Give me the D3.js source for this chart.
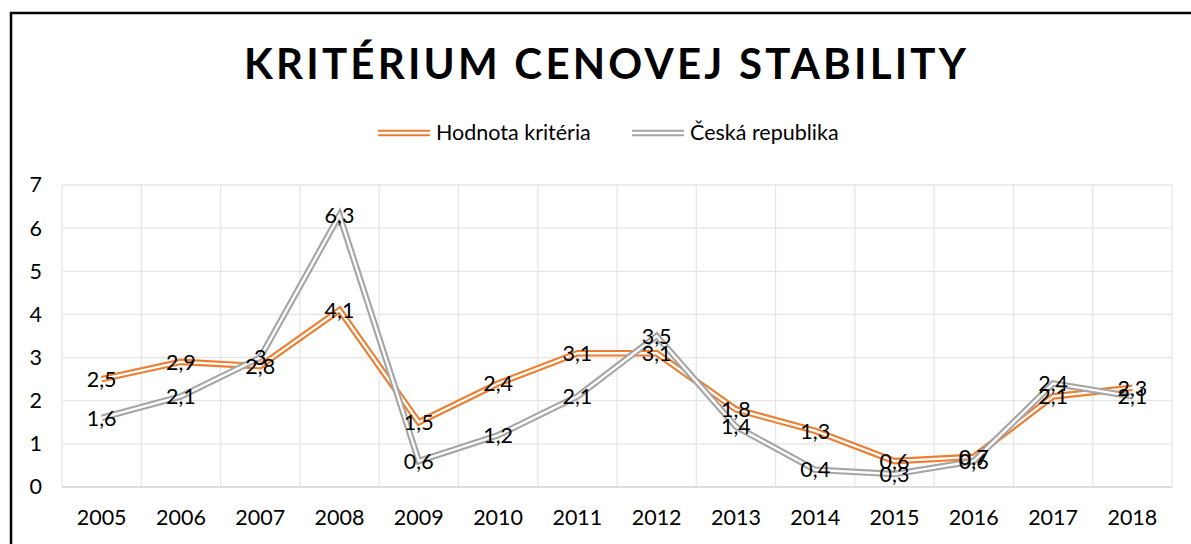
<!DOCTYPE html>
<html>
  <head>
    <meta charset="utf-8">
    <title>Kritérium cenovej stability</title>
    <script src="https://d3js.org/d3.v7.min.js"></script>
    <style>
      body { margin: 0; background: #fff; }
      svg { display: block; font-family: Lato, "Open Sans", sans-serif; }
      .grid line { stroke: #e6e6e6; stroke-width: 1.3; }
      .tick text, .label, .legendText { fill: #000; font-size: 21.5px; }
    </style>
  </head>
  <body>
    <svg id="chart" width="1191" height="544"></svg>
    <script>
      // data
      const years = ["2005", "2006", "2007", "2008", "2009", "2010", "2011", "2012", "2013", "2014", "2015", "2016", "2017", "2018"];
      const hodnota = [2.5, 2.9, 2.8, 4.1, 1.5, 2.4, 3.1, 3.1, 1.8, 1.3, 0.6, 0.7, 2.1, 2.3];
      const cesko = [1.6, 2.1, 3, 6.3, 0.6, 1.2, 2.1, 3.5, 1.4, 0.4, 0.3, 0.6, 2.4, 2.1];
      const yTicks = [0, 1, 2, 3, 4, 5, 6, 7];
      const seriesNames = ["Hodnota kritéria", "Česká republika"];
      const colors = ["#ed7d31", "#a5a5a5"];

      const chart = d3.select("#chart");
      const margin = { top: 185, right: 19, bottom: 57, left: 62 };
      const width = 1191, height = 544;

      // outer frame (left and top edges visible)
      chart.append("path")
        .attr("d", "M11,544 V13 H1191")
        .attr("fill", "none")
        .attr("stroke", "#000")
        .attr("stroke-width", 2.5);

      // title
      chart.append("text")
        .attr("x", 605).attr("y", 79)
        .attr("text-anchor", "middle")
        .attr("font-size", 42)
        .attr("font-weight", 700)
        .attr("textLength", 722)
        .attr("lengthAdjust", "spacing")
        .text("KRITÉRIUM CENOVEJ STABILITY");

      const x = d3.scaleBand().domain(years).range([margin.left, width - margin.right]);
      const y = d3.scaleLinear().domain([0, 7]).range([height - margin.bottom, margin.top]);
      const cx = d => x(d) + x.bandwidth() / 2;

      // gridlines
      const grid = chart.append("g").attr("class", "grid");
      grid.selectAll(".h").data(yTicks).join("line")
        .attr("x1", margin.left).attr("x2", width - margin.right)
        .attr("y1", d => y(d)).attr("y2", d => y(d));
      grid.selectAll(".v").data(years.concat(["end"])).join("line")
        .attr("x1", (d, i) => margin.left + i * x.bandwidth())
        .attr("x2", (d, i) => margin.left + i * x.bandwidth())
        .attr("y1", y(0)).attr("y2", y(7));
      chart.append("line")
        .attr("x1", margin.left).attr("x2", width - margin.right)
        .attr("y1", y(0)).attr("y2", y(0))
        .attr("stroke", "#d9d9d9").attr("stroke-width", 1.3);

      // axes
      const yAxis = d3.axisLeft(y).tickValues(yTicks).tickSize(0).tickPadding(20)
        .tickFormat(d3.format("d"));
      chart.append("g").attr("transform", "translate(" + margin.left + ",0)")
        .call(yAxis)
        .call(g => g.select(".domain").remove())
        .selectAll("text").attr("font-family", "Lato, sans-serif");
      const xAxis = d3.axisBottom(x).tickSize(0).tickPadding(23);
      chart.append("g").attr("transform", "translate(0," + y(0) + ")")
        .call(xAxis)
        .call(g => g.select(".domain").remove())
        .selectAll("text").attr("font-family", "Lato, sans-serif");

      // double lines
      const line = d3.line()
        .x((d, i) => cx(years[i]))
        .y(d => y(d));
      [hodnota, cesko].forEach(function(values, s) {
        chart.append("path")
          .attr("d", line(values))
          .attr("fill", "none")
          .attr("stroke", colors[s])
          .attr("stroke-width", 6.5);
        chart.append("path")
          .attr("d", line(values))
          .attr("fill", "none")
          .attr("stroke", "#fff")
          .attr("stroke-width", 2.3);
      });

      // data labels
      const fmt = d => String(d).replace(".", ",");
      [hodnota, cesko].forEach(function(values) {
        chart.append("g").selectAll("text").data(values).join("text")
          .attr("class", "label")
          .attr("x", (d, i) => cx(years[i]))
          .attr("y", d => y(d))
          .attr("dy", "0.36em")
          .attr("text-anchor", "middle")
          .text(fmt);
      });

      // legend
      const legendX = [378, 632];
      seriesNames.forEach(function(name, s) {
        const g = chart.append("g").attr("transform", "translate(" + legendX[s] + ",133)");
        g.append("line").attr("x1", 0).attr("x2", 52)
          .attr("stroke", colors[s]).attr("stroke-width", 6.5);
        g.append("line").attr("x1", 0).attr("x2", 52)
          .attr("stroke", "#fff").attr("stroke-width", 2.3);
        g.append("text").attr("class", "legendText")
          .attr("x", 58).attr("y", 7)
          .text(name);
      });
    </script>
  </body>
</html>
